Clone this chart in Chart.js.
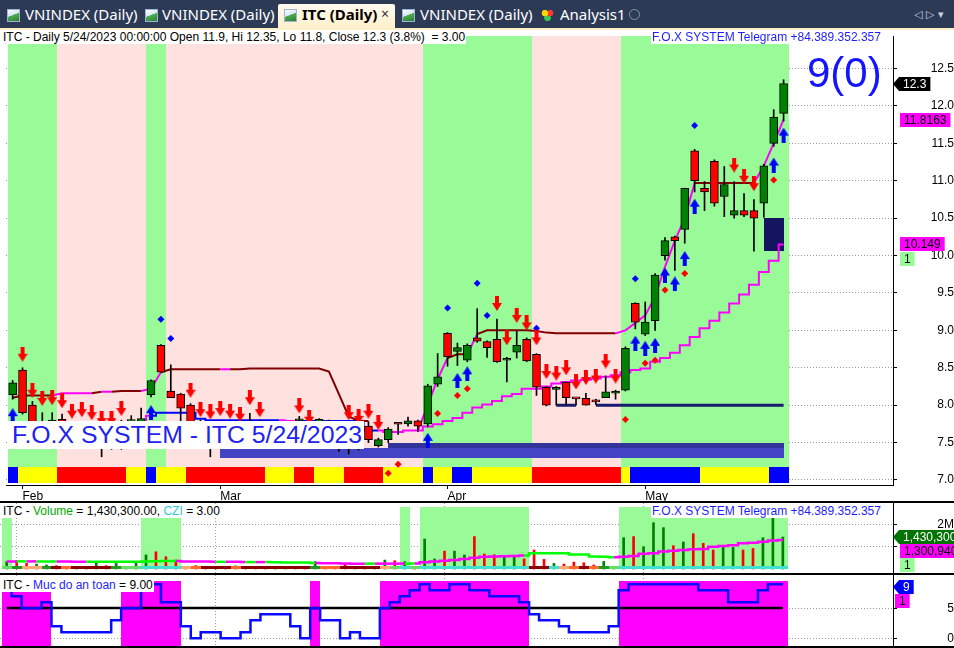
<!DOCTYPE html>
<html>
<head>
<meta charset="utf-8">
<title>ITC (Daily)</title>
<script src="https://cdn.jsdelivr.net/npm/chart.js@4.4.1/dist/chart.umd.min.js"></script>
<style>
  html, body { margin: 0; padding: 0; }
  body { width: 954px; height: 648px; overflow: hidden; position: relative; background: #fff; font-family: "Liberation Sans", Arial, sans-serif; }
  #tabs { position: absolute; left: 0; top: 0; width: 954px; height: 28px; background: #2c3a56; }
  #tabs .tt { position: absolute; top: 4px; font: 15px "Noto Sans", sans-serif; color: #fff; white-space: nowrap; }
  #tabs .b { color: #000; font-weight: bold; }
  #tabs .ico { position: absolute; top: 9px; width: 11px; height: 11px; border: 1px solid #9fb3d6; background: linear-gradient(160deg, #ffffff 0%, #d6e4f7 45%, #4caf50 46%, #2e7d32 100%); }
  #tabs .heart { position: absolute; top: 9px; width: 13px; height: 12px; background: radial-gradient(circle at 30% 35%, #ffd400 0 3px, transparent 3.5px), radial-gradient(circle at 70% 35%, #ff3b30 0 3px, transparent 3.5px), radial-gradient(circle at 50% 75%, #34c759 0 3px, transparent 3.5px); }
  #tabs .plus { position: absolute; top: 9px; width: 9px; height: 9px; border: 1px solid #8a94a8; border-radius: 50%; }
  #tabs .nav { font: 11px "DejaVu Sans", sans-serif; color: #c9d1e0; top: 8px; }
  #active { position: absolute; left: 278px; top: 4px; width: 117px; height: 26px; background: linear-gradient(#fffaf0, #fdefc6); border-radius: 2px 2px 0 0; }
  #tabline { position: absolute; left: 0; top: 28px; width: 954px; height: 2px; background: #fcefc8; }
  canvas { position: absolute; left: 0; z-index: 1; }
  .lbl { position: absolute; background: #fff; font-size: 12px; line-height: 14px; white-space: nowrap; padding: 0 1px; z-index: 5; }
  .rule { position: absolute; left: 0; width: 954px; height: 2px; background: #000; z-index: 4; }
</style>
</head>
<body>
<div id="tabs">
  <div class="ico" style="left:7px"></div><div class="tt" style="left:25px">VNINDEX (Daily)</div>
  <div class="ico" style="left:145px"></div><div class="tt" style="left:162px">VNINDEX (Daily)</div>
  <div id="active"></div>
  <div class="ico" style="left:284px"></div><div class="tt b" style="left:302px">ITC (Daily)</div>
  <div class="tt" style="left:381px;color:#333;font-size:14px">×</div>
  <div class="ico" style="left:402px"></div><div class="tt" style="left:420px">VNINDEX (Daily)</div>
  <div class="heart" style="left:541px"></div><div class="tt" style="left:560px">Analysis1</div>
  <div class="plus" style="left:629px"></div>
  <div class="tt nav" style="left:914px">◁ ▷ ▾</div>
</div>
<div id="tabline"></div>

<canvas id="cMain" width="954" height="471" style="top:30px"></canvas>
<div class="rule" style="top:501px"></div>
<canvas id="cVol" width="954" height="70" style="top:503px"></canvas>
<div class="rule" style="top:573px"></div>
<canvas id="cSafe" width="954" height="71" style="top:575px"></canvas>
<div class="rule" style="top:646px"></div>

<div class="lbl" style="left:2px;top:30px">ITC - Daily 5/24/2023 00:00:00 Open 11.9, Hi 12.35, Lo 11.8, Close 12.3 (3.8%) &nbsp;= 3.00</div>
<div class="lbl" style="left:651px;top:30px;color:#1e1eff">F.O.X SYSTEM Telegram +84.389.352.357</div>
<div class="lbl" style="left:806px;top:52px;background:none;font-size:42px;line-height:42px;color:#1414ff">9(0)</div>
<div class="lbl" style="left:8px;top:421px;width:351px;height:28px;font-size:24.8px;line-height:28px;padding-left:4px;color:#2222f0">F.O.X SYSTEM - ITC 5/24/2023</div>
<div class="lbl" style="left:2px;top:504px">ITC - <span style="color:#00a800">Volume</span> = 1,430,300.00, <span style="color:#33c6d8">CZI</span> = 3.00</div>
<div class="lbl" style="left:651px;top:504px;color:#1e1eff">F.O.X SYSTEM Telegram +84.389.352.357</div>
<div class="lbl" style="left:2px;top:578px">ITC - <span style="color:#1e1eff">Muc do an toan</span> = 9.00</div>

<script>
// bar index 0 = 31 Jan 2023, last bar (78) = 24 May 2023
const monthTickIdx = [1, 21, 44, 64];
const monthTickLabels = ['Feb', 'Mar', 'Apr', 'May'];
const priceTicks = [7.0, 7.5, 8.0, 8.5, 9.0, 9.5, 10.0, 10.5, 11.0, 11.5, 12.0, 12.5];
const volumeTicks = [1000000, 2000000];
const safetyTicks = [0, 5];

const open = [8.14, 8.47, 8.00, 7.70, 7.72, 7.81, 7.68, 7.60, 7.62, 7.52,
  7.60, 7.52, 7.78, 7.76, 8.14, 8.80, 8.19, 8.15, 8.00, 7.78,
  7.62, 7.52, 7.60, 7.55, 7.58, 7.62, 7.55, 7.60, 7.66, 7.79,
  7.68, 7.60, 7.75, 7.60, 7.52, 7.48, 7.72, 7.46, 7.54, 7.75,
  7.75, 7.79, 7.75, 8.28, 8.96, 8.72, 8.60, 8.90, 8.85, 8.88,
  8.60, 8.71, 8.88, 8.68, 8.24, 8.21, 8.31, 8.09, 8.09, 8.05,
  8.10, 8.16, 8.20, 9.36, 8.95, 9.13, 10.00, 10.25, 10.35, 11.40,
  10.90, 11.26, 10.79, 10.54, 10.60, 10.60, 10.70, 11.50, 11.90];
const high = [8.33, 8.50, 8.05, 7.90, 7.90, 7.88, 7.78, 7.78, 7.75, 7.68,
  7.68, 7.80, 7.86, 7.96, 8.34, 8.81, 8.54, 8.16, 8.02, 7.80,
  7.76, 7.78, 7.75, 7.70, 7.89, 7.80, 7.70, 7.72, 7.78, 7.85,
  7.70, 7.82, 7.80, 7.70, 7.75, 7.70, 7.78, 7.56, 7.70, 7.76,
  7.84, 7.80, 8.28, 8.69, 8.97, 8.83, 8.82, 9.29, 8.86, 9.15,
  8.64, 8.99, 8.90, 8.69, 8.25, 8.25, 8.31, 8.09, 8.16, 8.08,
  8.39, 8.20, 8.78, 9.37, 9.38, 9.76, 10.24, 10.26, 10.90, 11.42,
  10.99, 11.28, 11.19, 10.99, 10.83, 10.75, 11.22, 11.95, 12.35];
const low = [8.08, 7.88, 7.62, 7.60, 7.65, 7.62, 7.55, 7.52, 7.50, 7.31,
  7.41, 7.41, 7.60, 7.62, 8.11, 8.44, 8.10, 7.79, 7.75, 7.55,
  7.31, 7.45, 7.48, 7.45, 7.50, 7.48, 7.45, 7.50, 7.55, 7.60,
  7.50, 7.55, 7.45, 7.38, 7.35, 7.40, 7.50, 7.44, 7.50, 7.61,
  7.72, 7.65, 7.71, 8.25, 8.52, 8.53, 8.58, 8.84, 8.64, 8.57,
  8.31, 8.63, 8.58, 8.13, 7.99, 8.00, 8.00, 8.00, 8.00, 8.01,
  8.10, 8.08, 8.19, 9.02, 8.93, 9.00, 9.94, 9.80, 10.165, 10.85,
  10.60, 10.66, 10.52, 10.50, 10.52, 10.06, 10.51, 11.46, 11.80];
const close = [8.30, 7.90, 7.66, 7.74, 7.80, 7.65, 7.60, 7.64, 7.55, 7.60,
  7.50, 7.66, 7.80, 7.82, 8.33, 8.44, 8.10, 7.96, 7.78, 7.62,
  7.50, 7.62, 7.55, 7.58, 7.62, 7.55, 7.60, 7.66, 7.70, 7.80,
  7.55, 7.81, 7.60, 7.50, 7.45, 7.60, 7.54, 7.54, 7.68, 7.745,
  7.79, 7.72, 8.26, 8.38, 8.65, 8.77, 8.80, 8.855, 8.77, 8.58,
  8.62, 8.80, 8.59, 8.24, 8.00, 8.24, 8.10, 8.085, 8.00, 8.045,
  8.18, 8.19, 8.76, 9.11, 9.11, 9.74, 10.20, 10.20, 10.90, 11.00,
  10.85, 10.70, 10.95, 10.60, 10.54, 10.50, 11.20, 11.85, 12.30];

// 1 = green (up) zone, 0 = pink zone
const trend = [1,1,1,1,1,0,0,0,0,0, 0,0,0,0,1,1,0,0,0,0, 0,0,0,0,0,0,0,0,0,0,
  0,0,0,0,0,0,0,0,0,0, 0,0,1,1,1,1,1,1,1,1, 1,1,1,0,0,0,0,0,0,0,
  0,0,1,1,1,1,1,1,1,1, 1,1,1,1,1,1,1,1,1];
// bottom strip: 2 = blue, 1 = yellow, 0 = red
const signal = [2,1,1,1,1,0,0,0,0,0, 0,0,1,1,2,1,1,1,0,0, 0,0,0,0,0,0,1,1,1,0,
  0,1,1,1,0,0,0,0,1,1, 1,1,2,1,1,2,2,1,1,1, 1,1,1,0,0,0,0,0,0,0,
  0,0,1,2,2,2,2,2,2,2, 1,1,1,1,1,1,1,2,2];

const stopLine = [8.10, 8.13, 8.13, 8.13, 8.13, 8.16, 8.16, 8.16, 8.16, 8.18,
  8.18, 8.19, 8.19, 8.19, 8.22, 8.44, 8.48, 8.48, 8.48, 8.48,
  8.48, 8.48, 8.48, 8.48, 8.49, 8.49, 8.49, 8.49, 8.49, 8.49,
  8.49, 8.49, 8.45, 8.15, 7.85, 7.79, 7.79, null, null, null,
  null, 7.66, 8.00, 8.35, 8.63, 8.68, 8.68, 8.95, 9.00, 9.00,
  9.00, 9.00, 9.00, 8.99, 8.97, 8.96, 8.96, 8.96, 8.96, 8.96,
  8.96, 8.96, 9.00, 9.10, 9.20, 9.45, 9.85, 10.20, 10.50, 10.97,
  10.97, 10.97, 10.97, 10.97, 10.97, 10.97, 11.20, 11.50, 11.8163];
const stopUp = [1,0,0,0,0,1,1,1,1,0, 1,0,0,0,1,1,0,0,0,0, 0,0,1,0,0,0,0,0,0,0,
  0,0,0,0,0,0,0,0,0,0, 0,1,1,1,1,0,0,1,0,0, 0,0,0,0,0,0,0,0,0,0,
  0,0,1,1,1,1,1,1,1,1, 0,0,0,0,0,0,1,1,1];
const supportLine = [7.55, 7.55, 7.55, 7.55, 7.55, 7.55, 7.55, 7.55, 7.55, 7.55,
  7.55, 7.55, 7.55, 7.55, 7.86, 7.90, 7.90, 7.90, 7.90, 7.82,
  7.80, 7.80, 7.80, 7.80, 7.80, 7.80, 7.80, 7.80, 7.79, 7.79,
  7.79, 7.79, 7.79, 7.79, 7.79, 7.79, 7.66, 7.66, 7.64, 7.64,
  7.66, 7.66, 7.715, 7.745, 7.79, 7.83, 7.90, 7.97, 8.01, 8.055,
  8.12, 8.15, 8.22, 8.22, 8.25, 8.29, 8.31, 8.33, 8.34, 8.355,
  8.38, 8.40, 8.44, 8.47, 8.49, 8.58, 8.63, 8.70, 8.80, 8.91,
  9.03, 9.13, 9.24, 9.36, 9.48, 9.61, 9.78, 9.93, 10.149];
const supportUp = [1,1,1,1,1,1,1,1,1,1, 1,1,1,1,1,0,0,0,0,0, 0,0,0,0,0,0,0,0,1,1,
  0,0,0,0,0,0,0,0,1,1, 1,1,1,1,1,1,1,1,1,1, 1,1,1,1,1,1,1,1,1,1,
  1,1,1,1,1,1,1,1,1,1, 1,1,1,1,1,1,1,1,1];

const floorFrom = [55, 59];
const floorTo = [57, 78];
const floorLevel = [8.0, 8.0];

const bandFrom = [21, 38, 76];
const bandTo = [78, 78, 78];
const bandLow = [7.30, 7.43, 10.06];
const bandHigh = [7.43, 7.49, 10.50];

const sellIdx = [1,2,3,4,5,6,7,8,9,10,11,18,19,20,21,22,23,24,25,29,30,34,35,36,37,
  49,50,51,52,53,54,55,56,57,58,59,60,61,73,74,75];
const sellAt = [8.68,8.20,8.09,8.10,8.06,7.92,7.94,7.90,7.82,7.82,7.955,8.20,7.94,7.91,7.955,7.92,7.88,8.10,7.94,7.99,7.84,7.90,7.85,7.92,7.77,
  9.36,8.90,9.20,9.10,8.90,8.45,8.43,8.50,8.31,8.37,8.39,8.59,8.39,11.21,11.06,10.96];
const buyIdx = [0,14,42,45,46,63,64,65,66,67,68,69,77,78];
const buyAt = [7.86,7.90,7.53,8.33,8.42,8.83,8.76,8.80,9.74,9.62,9.96,10.66,11.21,11.61];
const redDotIdx = [38,39,43,45,46,62,64,65,66,68,77];
const redDotAt = [7.09,7.21,7.89,8.13,8.22,7.81,8.56,8.60,9.54,9.76,11.01];
const blueDotIdx = [15,16,44,47,48,53,63,69];
const blueDotAt = [9.15,8.89,9.30,9.63,9.20,9.03,9.69,11.74];

const volume = [330000, 370000, 250000, 220000, 180000, 150000, 120000, 100000, 100000, 330000,
  150000, 250000, 80000, 280000, 630000, 770000, 550000, 400000, 120000, 150000,
  100000, 120000, 100000, 140000, 120000, 80000, 100000, 120000, 100000, 80000,
  120000, 330000, 80000, 60000, 250000, 60000, 100000, 50000, 400000, 370000,
  330000, 100000, 1340000, 450000, 800000, 800000, 630000, 1450000, 670000, 640000,
  600000, 600000, 450000, 850000, 430000, 250000, 220000, 310000, 280000, 180000,
  340000, 110000, 1400000, 1450000, 1000000, 2070000, 1850000, 1040000, 1210000, 1580000,
  1150000, 850000, 1040000, 970000, 850000, 920000, 1400000, 2280000, 1430300];
const volumeAvg = [330000, 340000, 340000, 340000, 330000, 330000, 330000, 320000, 320000, 320000,
  320000, 320000, 320000, 320000, 330000, 350000, 360000, 360000, 340000, 330000,
  330000, 320000, 320000, 320000, 310000, 310000, 310000, 300000, 290000, 290000,
  290000, 270000, 260000, 260000, 250000, 240000, 240000, 240000, 240000, 240000,
  240000, 250000, 300000, 340000, 370000, 400000, 450000, 500000, 550000, 560000,
  570000, 580000, 600000, 700000, 700000, 700000, 700000, 650000, 650000, 560000,
  550000, 530000, 550000, 580000, 680000, 700000, 780000, 820000, 850000, 880000,
  900000, 1000000, 1030000, 1060000, 1150000, 1180000, 1220000, 1280000, 1300940];
const volumeAvgUp = [1,1,0,1,0,0,1,1,1,0, 0,0,0,0,0,0,0,0,1,1, 1,1,0,1,1,0,1,0,0,0,
  0,0,1,1,1,1,1,0,1,1, 1,0,1,1,1,1,1,1,1,1, 1,1,1,0,0,0,0,0,0,0,
  0,0,1,1,1,1,1,1,1,1, 1,1,1,1,1,1,1,1,1];
const volumeZone = [1,0,0,0,0,0,0,0,0,0, 0,0,0,0,1,1,1,1,0,0, 0,0,0,0,0,0,0,0,0,0,
  0,0,0,0,0,0,0,0,0,0, 1,0,1,1,1,1,1,1,1,1, 1,1,1,0,0,0,0,0,0,0,
  0,0,1,1,1,1,1,1,1,1, 1,1,1,1,1,1,1,1,1];
// CZI state: 0 none, 1 strong down, 2 down, 3 weak down, 4 up, 5 weak up
const czi = [5,4,3,3,4,1,2,1,1,1, 1,4,5,5,0,0,0,0,3,2, 1,1,1,2,1,1,1,1,1,1,
  1,4,2,2,1,1,1,1,3,5, 0,5,0,0,0,0,0,0,0,0, 0,0,0,1,1,0,3,2,1,2,
  4,5,0,0,0,0,0,0,0,0, 0,0,0,0,0,0,0,0,0];

// "Muc do an toan" (safety level), 0..9
const safety = [8,7,5,5,6,2,1,1,1,1, 1,3,5,5,9,9,6,6,2,0, 1,1,0,0,1,3,4,4,4,2,
  0,5,3,3,0,1,0,0,5,6, 7,8,9,8,8,9,9,8,8,7, 7,7,6,4,3,3,2,1,1,1,
  1,2,8,9,9,9,9,9,9,9, 8,8,8,6,6,6,8,9,9];
const safeLevel = 5;

const MAG = '#ff00ff', MAROON = '#800000', BLUE = '#0000ff';
const X_MIN = -0.673, X_MAX = 89.07;
const FONT = { family: '"Liberation Sans", Arial, sans-serif', size: 12 };
Chart.defaults.font = FONT;
Chart.defaults.color = '#000';
Chart.defaults.animation = false;

const last = close.length - 1;
const pts = arr => arr.map((v, i) => ({ x: i, y: v }));
const pairs = (idx, vals) => idx.map((i, k) => ({ x: i, y: vals[k] }));

function arrowImg(color, down) {
  const c = document.createElement('canvas');
  c.width = 10; c.height = 15;
  const g = c.getContext('2d');
  if (!down) { g.translate(0, 15); g.scale(1, -1); }
  g.fillStyle = color;
  g.fillRect(3, 0, 4, 8);
  g.beginPath();
  g.moveTo(0, 7); g.lineTo(10, 7); g.lineTo(5, 15); g.closePath();
  g.fill();
  return c;
}
const downArrow = arrowImg('#ff0000', true);
const upArrow = arrowImg('#0000ff', false);

function xScale(labels) {
  return {
    type: 'linear', min: X_MIN, max: X_MAX, offset: false,
    afterBuildTicks: s => { s.ticks = monthTickIdx.map(v => ({ value: v })); },
    afterFit: s => { s.height = labels ? 16 : 0; s.paddingLeft = 0; s.paddingRight = 0; },
    ticks: labels
      ? { callback: v => monthTickLabels[monthTickIdx.indexOf(v)], align: 'start', padding: 0, maxRotation: 0, autoSkip: false }
      : { display: false },
    grid: labels
      ? { drawOnChartArea: false, offset: false, tickLength: 4, tickColor: '#000', tickBorderDash: [] }
      : { color: '#a0a0a0', offset: false, drawTicks: false },
    border: labels ? { display: true, color: '#000' } : { display: false, dash: [1, 2] }
  };
}

function yScale(min, max, ticks, fmt, pad) {
  return {
    position: 'right', min, max,
    afterBuildTicks: s => { s.ticks = ticks.map(v => ({ value: v })); },
    afterFit: s => { s.width = 61; s.paddingTop = 0; s.paddingBottom = 0; },
    ticks: { callback: fmt, crossAlign: 'far', padding: pad, autoSkip: false },
    grid: { color: '#9a9a9a', tickLength: 4, tickColor: '#000', tickBorderDash: [] },
    border: { display: true, color: '#000', dash: [1, 2] }
  };
}

// value tag on the right axis
function drawTag(ctx, left, yc, text, fill, ink, pointer) {
  ctx.save();
  ctx.font = '12px "Liberation Sans", Arial';
  const tw = ctx.measureText(text).width;
  const h = 14, top = Math.round(yc - h / 2);
  const x0 = pointer ? left + 6 : left;
  const right = x0 + tw + 8;
  ctx.fillStyle = fill;
  ctx.beginPath();
  if (pointer) { ctx.moveTo(left, top + h / 2); ctx.lineTo(x0, top); } else ctx.moveTo(x0, top);
  ctx.lineTo(right, top); ctx.lineTo(right, top + h); ctx.lineTo(x0, top + h);
  ctx.closePath(); ctx.fill();
  ctx.fillStyle = ink; ctx.textBaseline = 'middle'; ctx.textAlign = 'left';
  ctx.fillText(text, x0 + 4, top + h / 2 + 1);
  ctx.restore();
  return top + h;
}

function edges(x) {
  return i => [Math.round(x.getPixelForValue(i - 0.5)), Math.round(x.getPixelForValue(i + 0.5))];
}

const mainDecor = {
  id: 'mainDecor',
  beforeDatasetsDraw(chart) {
    const { ctx, chartArea: a, scales: { x, y } } = chart;
    const ed = edges(x);
    const stripTop = a.bottom - 18;
    ctx.save();
    trend.forEach((t, i) => {
      const [x0, x1] = ed(i);
      ctx.fillStyle = t ? '#98fb98' : '#ffe2df';
      ctx.fillRect(x0, a.top, x1 - x0, stripTop - a.top);
    });
    signal.forEach((s, i) => {
      const [x0, x1] = ed(i);
      ctx.fillStyle = ['#ff0000', '#ffff00', '#0000ff'][s];
      ctx.fillRect(x0, stripTop, x1 - x0, 16);
    });
    const bandFill = ['#4343c6', '#33339c', '#141460'];
    bandFrom.forEach((b, k) => {
      const x0 = Math.round(x.getPixelForValue(b)), x1 = Math.round(x.getPixelForValue(bandTo[k]));
      const y0 = Math.round(y.getPixelForValue(bandHigh[k])), y1 = Math.round(y.getPixelForValue(bandLow[k]));
      ctx.fillStyle = bandFill[k];
      ctx.fillRect(x0, y0, x1 - x0, y1 - y0);
    });
    ctx.restore();
  },
  afterDraw(chart) {
    const { ctx, chartArea: a, scales: { y } } = chart;
    drawTag(ctx, a.right, y.getPixelForValue(close[last]), close[last].toString(), '#000', '#fff', true);
    drawTag(ctx, a.right + 7, y.getPixelForValue(stopLine[last]), stopLine[last].toString(), MAG, '#000');
    const b = drawTag(ctx, a.right + 7, y.getPixelForValue(supportLine[last]), supportLine[last].toString(), MAG, '#000');
    drawTag(ctx, a.right + 7, b + 8, String(trend[last]), '#98fb98', '#000');
  }
};

const floorPts = [];
floorFrom.forEach((f, k) => {
  floorPts.push({ x: f, y: floorLevel[k] }, { x: floorTo[k], y: floorLevel[k] }, { x: floorTo[k] + 0.5, y: null });
});

const up = close.map((c, i) => c >= open[i]);

new Chart(document.getElementById('cMain'), {
  type: 'bar',
  data: {
    datasets: [
      { type: 'line', data: pairs(sellIdx, sellAt), showLine: false, pointStyle: downArrow, pointRadius: 5, order: 0 },
      { type: 'line', data: pairs(buyIdx, buyAt), showLine: false, pointStyle: upArrow, pointRadius: 5, order: 0 },
      { type: 'line', data: pairs(redDotIdx, redDotAt), showLine: false, pointStyle: 'rectRot', pointRadius: 3.5,
        pointBackgroundColor: '#ff0000', pointBorderColor: '#ff0000', pointBorderWidth: 0, order: 0 },
      { type: 'line', data: pairs(blueDotIdx, blueDotAt), showLine: false, pointStyle: 'rectRot', pointRadius: 3.5,
        pointBackgroundColor: '#0000ff', pointBorderColor: '#0000ff', pointBorderWidth: 0, order: 0 },
      { type: 'bar', data: close.map((c, i) => ({ x: i, y: [open[i], c] })),
        backgroundColor: up.map(u => u ? '#008000' : '#ff0000'), borderColor: '#000', borderWidth: 1,
        borderSkipped: false, barThickness: 8, minBarLength: 2, grouped: false, order: 1 },
      { type: 'bar', data: high.map((h, i) => ({ x: i, y: [low[i], h] })),
        backgroundColor: '#000', barThickness: 1, grouped: false, order: 2 },
      { type: 'line', data: floorPts, borderColor: '#191970', borderWidth: 3, pointRadius: 0, order: 3 },
      { type: 'line', data: pts(stopLine), borderColor: MAG, borderWidth: 2, pointRadius: 0, order: 4,
        segment: { borderColor: c => stopUp[c.p1DataIndex] ? MAG : MAROON } },
      { type: 'line', data: pts(supportLine), borderColor: MAG, borderWidth: 2, pointRadius: 0, stepped: 'middle', order: 4,
        segment: { borderColor: c => supportUp[c.p1DataIndex] ? MAG : BLUE } }
    ]
  },
  options: {
    responsive: false, events: [],
    layout: { padding: 0 },
    plugins: { legend: { display: false }, tooltip: { enabled: false } },
    scales: {
      x: xScale(true),
      y: yScale(6.933, 12.935, priceTicks, v => v.toFixed(1), 22)
    }
  },
  plugins: [mainDecor]
});

const volDecor = {
  id: 'volDecor',
  beforeDatasetsDraw(chart) {
    const { ctx, chartArea: a, scales: { x, y } } = chart;
    const ed = edges(x);
    const base = Math.round(y.getPixelForValue(0)) - 3;
    ctx.save();
    ctx.fillStyle = '#98fb98';
    volumeZone.forEach((z, i) => {
      if (!z) return;
      const [x0, x1] = ed(i);
      ctx.fillRect(x0, a.top + 4, x1 - x0, base - a.top - 4);
    });
    ctx.restore();
  },
  afterDatasetsDraw(chart) {
    const { ctx, scales: { x, y } } = chart;
    const ed = edges(x);
    const base = Math.round(y.getPixelForValue(0)) - 3;
    const cziFill = ['#40e0d0', '#8b0000', '#ff6a2a', '#ffa870', '#1f9a1f', '#66dd66'];
    ctx.save();
    czi.forEach((c, i) => {
      const [x0, x1] = ed(i);
      ctx.fillStyle = cziFill[c];
      ctx.fillRect(x0, base, x1 - x0, 3);
    });
    ctx.restore();
  },
  afterDraw(chart) {
    const { ctx, chartArea: a, scales: { y } } = chart;
    const b1 = drawTag(ctx, a.right, y.getPixelForValue(volume[last]), volume[last].toLocaleString('en-US'), '#007400', '#fff', true);
    const b2 = drawTag(ctx, a.right + 7, Math.max(y.getPixelForValue(volumeAvg[last]), b1 + 7), volumeAvg[last].toLocaleString('en-US'), MAG, '#000');
    drawTag(ctx, a.right + 7, b2 + 7, String(volumeZone[last]), '#98fb98', '#000');
  }
};

new Chart(document.getElementById('cVol'), {
  type: 'bar',
  data: {
    datasets: [
      { type: 'line', data: pts(volumeAvg), borderColor: MAG, borderWidth: 2.5, pointRadius: 0, stepped: 'middle', order: 0,
        segment: { borderColor: c => volumeAvgUp[c.p1DataIndex] ? MAG : '#00ff00' } },
      { type: 'bar', data: pts(volume), backgroundColor: up.map(u => u ? '#008000' : '#ff0000'),
        barThickness: 2, grouped: false, order: 1 }
    ]
  },
  options: {
    responsive: false, events: [],
    layout: { padding: 0 },
    plugins: { legend: { display: false }, tooltip: { enabled: false } },
    scales: {
      x: xScale(false),
      y: yScale(-179000, 2953000, volumeTicks, v => (v / 1000000) + 'M', 26)
    }
  },
  plugins: [volDecor]
});

const safeDecor = {
  id: 'safeDecor',
  beforeDatasetsDraw(chart) {
    const { ctx, chartArea: a, scales: { x, y } } = chart;
    const ed = edges(x);
    ctx.save();
    ctx.fillStyle = MAG;
    safety.forEach((v, i) => {
      if (v < safeLevel) return;
      const [x0, x1] = ed(i);
      ctx.fillRect(x0, a.top + 6, x1 - x0, a.bottom - a.top - 6);
    });
    ctx.strokeStyle = '#000';
    ctx.lineWidth = 2.5;
    ctx.beginPath();
    const yl = Math.round(y.getPixelForValue(safeLevel));
    ctx.moveTo(x.getPixelForValue(0), yl);
    ctx.lineTo(x.getPixelForValue(last), yl);
    ctx.stroke();
    ctx.restore();
  },
  afterDraw(chart) {
    const { ctx, chartArea: a, scales: { y } } = chart;
    const b = drawTag(ctx, a.right, y.getPixelForValue(safety[last]) + 3, String(safety[last]), '#0000ff', '#fff', true);
    drawTag(ctx, a.right + 2, b + 7, String(trend[last]), MAG, '#000');
  }
};

new Chart(document.getElementById('cSafe'), {
  type: 'line',
  data: {
    datasets: [
      { data: pts(safety), borderColor: '#0a0aff', borderWidth: 2.5, pointRadius: 0, stepped: 'middle' }
    ]
  },
  options: {
    responsive: false, events: [],
    layout: { padding: 0 },
    plugins: { legend: { display: false }, tooltip: { enabled: false } },
    scales: {
      x: xScale(false),
      y: yScale(-1.283, 10.55, safetyTicks, v => String(v), 38)
    }
  },
  plugins: [safeDecor]
});
</script>
</body>
</html>
